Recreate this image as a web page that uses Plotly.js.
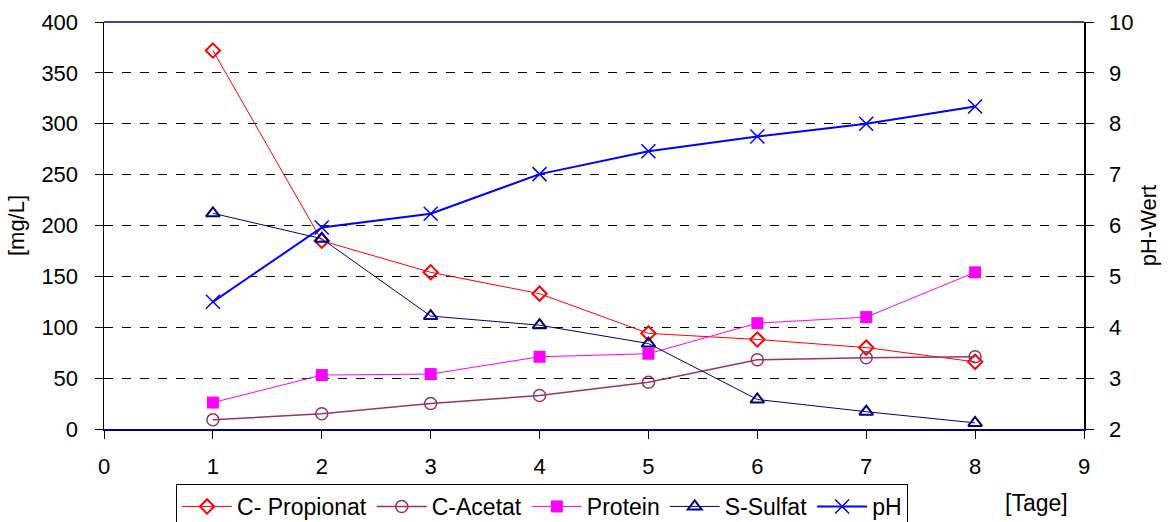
<!DOCTYPE html>
<html><head><meta charset="utf-8">
<script src="https://cdn.plot.ly/plotly-3.0.1.min.js"></script>
<style>body{margin:0;background:#fff}#c{width:1168px;height:522px}</style>
</head><body><div id="c"></div>
<script>
const days = [1,2,3,4,5,6,7,8];
const propionat = [372,185,154,133,94,88,80,66];
const acetat = [9,15,25,33,46,68,70,71];
const protein = [26,53,54,71,74,104,110,154];
const sulfat = [212,187,111,102,84,29,17,6];
const ph = [4.50,5.96,6.23,7.01,7.46,7.75,8.00,8.34];
const xTicks = [0,1,2,3,4,5,6,7,8,9];
const yTicks = [0,50,100,150,200,250,300,350,400];
const y2Ticks = [2,3,4,5,6,7,8,9,10];

const F = 'Liberation Sans, Arial, sans-serif';
const traces = [
 {x:days,y:propionat,name:'C- Propionat',mode:'lines+markers',line:{color:'#FF0000',width:1},
  marker:{symbol:'diamond-open',size:11,color:'#FF0000',line:{width:2}}},
 {x:days,y:acetat,name:'C-Acetat',mode:'lines+markers',line:{color:'#993366',width:1.5},
  marker:{symbol:'circle-open',size:12,color:'#993366',line:{width:1.5}}},
 {x:days,y:protein,name:'Protein',mode:'lines+markers',line:{color:'#FF00FF',width:1},
  marker:{symbol:'square',size:12,color:'#FF00FF'}},
 {x:days,y:sulfat,name:'S-Sulfat',mode:'lines+markers',line:{color:'#000080',width:1},
  marker:{symbol:'triangle-up-open',size:12,color:'#000080',line:{width:2}}},
 {x:days,y:ph,name:'pH',yaxis:'y2',mode:'lines+markers',line:{color:'#0000FF',width:2},
  marker:{symbol:'x-thin-open',size:14,color:'#0000FF',line:{width:1.5,color:'#0000FF'}}}
];
const layout = {
 width:1168,height:522,margin:{l:104,r:84,t:22,b:93,autoexpand:false},
 paper_bgcolor:'#fff',plot_bgcolor:'#fff',
 font:{family:F,size:22,color:'#000'},
 showlegend:true,
 legend:{orientation:'h',x:0.0735,xanchor:'left',y:-0.1351,yanchor:'top',
   bordercolor:'#000',borderwidth:1,font:{family:F,size:23,color:'#000'},
   itemwidth:50,tracegroupgap:0},
 xaxis:{range:[0,9],tickvals:xTicks,showgrid:false,zeroline:false,showline:true,
   linecolor:'#000080',linewidth:1.5,ticks:'outside',ticklen:8,tickcolor:'#000',
   ticklabelstandoff:9,tickfont:{family:F,size:22}},
 yaxis:{range:[0,400],tickvals:yTicks,showgrid:true,gridcolor:'#000',griddash:'dash',gridwidth:1,
   zeroline:false,showline:true,linecolor:'#000',linewidth:1.5,ticks:'outside',ticklen:8,
   tickcolor:'#000',ticklabelstandoff:12,tickfont:{family:F,size:22},
   title:{text:'[mg/L]',font:{family:F,size:22},standoff:10}},
 yaxis2:{range:[2,10],tickvals:y2Ticks,overlaying:'y',side:'right',showgrid:false,zeroline:false,
   showline:true,linecolor:'#000',linewidth:1.5,ticks:'outside',ticklen:8,tickcolor:'#000',
   ticklabelstandoff:11,tickfont:{family:F,size:22},
   title:{text:'pH-Wert',font:{family:F,size:22},standoff:8}},
 shapes:[{type:'line',xref:'paper',yref:'paper',x0:0,x1:1,y0:1,y1:1,line:{color:'#000080',width:1.5}}],
 annotations:[{text:'[Tage]',xref:'paper',yref:'paper',x:0.9515,y:-0.182,xanchor:'center',yanchor:'middle',
   showarrow:false,font:{family:F,size:23,color:'#000'}}]
};
Plotly.newPlot('c',traces,layout,{displayModeBar:false,staticPlot:true});
</script></body></html>
